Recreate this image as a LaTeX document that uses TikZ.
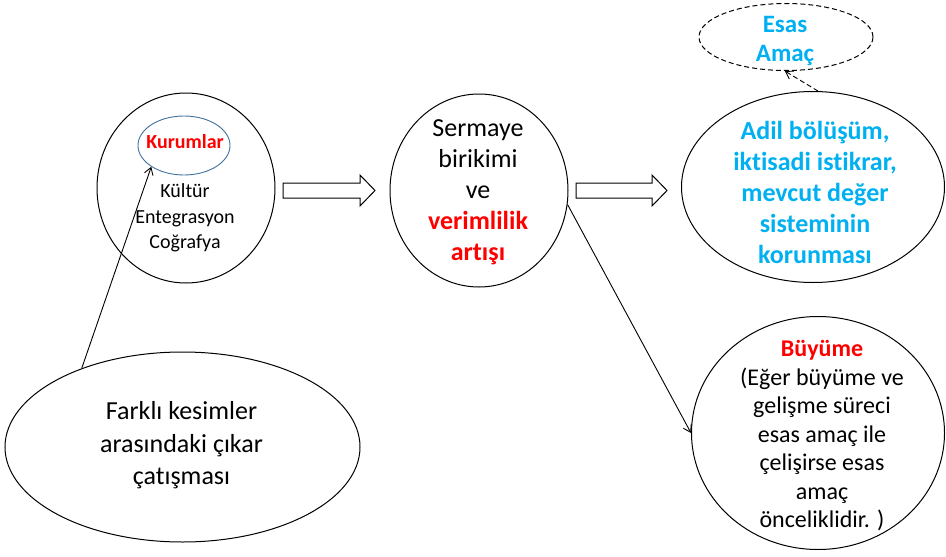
\documentclass[tikz,border=0pt]{standalone}
\usepackage{fontspec}
\setmainfont{Carlito}[Ligatures=NoCommon]
\usetikzlibrary{shapes.geometric,arrows.meta}
\definecolor{esasblue}{RGB}{0,176,240}
\definecolor{kurumred}{RGB}{255,0,0}
\definecolor{ringblue}{RGB}{65,113,156}

\tikzset{
  ring/.style={draw,ellipse,inner sep=0pt,line width=1pt},
  txt/.style={align=center,inner sep=0pt},
  link/.style={->,line width=0.9pt},
}

\begin{document}
\begin{tikzpicture}[x=1pt,y=-1pt,>={Straight Barb[length=7pt,width=9pt]}]
\useasboundingbox (0,0) rectangle (946,557);
% outlines
\node [ring, minimum width=178, minimum height=190] (kultur) at (186,188) {};
\node [ring, draw=ringblue, line width=0.9pt, minimum width=92, minimum height=59] (kurumlar) at (184,145.5) {};
\node [ring, minimum width=178, minimum height=193] (sermaye) at (479,190.5) {};
\node [ring, minimum width=263, minimum height=191] (adil) at (813,187) {};
\node [ring, dash pattern=on 5pt off 3pt, minimum width=174, minimum height=67] (esas) at (786,37) {};
\node [ring, minimum width=253, minimum height=233] (buyume) at (818,433) {};
\node [ring, minimum width=355, minimum height=190] (farkli) at (182.5,447) {};
% texts
\node [txt, text=kurumred, font=\fontsize{20}{25}\selectfont\bfseries] (kurumlartext) at (185,142) {Kurumlar};
\node [txt, font=\fontsize{20}{25.5}\selectfont] (kulturtext) at (185,218) {Kültür\\Entegrasyon\\Coğrafya};
\node [txt, font=\fontsize{26}{31}\selectfont] (sermayetext) at (478,192.5) {Sermaye\\birikimi\\ve\\\textcolor{kurumred}{\textbf{verimlilik}}\\\textcolor{kurumred}{\textbf{artışı}}};
\node [txt, text=esasblue, font=\fontsize{26}{31}\selectfont\bfseries] (adiltext) at (815,192.5) {Adil bölüşüm,\\iktisadi istikrar,\\mevcut değer\\sisteminin\\korunması};
\node [txt, text=esasblue, font=\fontsize{25}{29}\selectfont\bfseries] (esastext) at (785,40.5) {Esas\\Amaç};
\node [txt, font=\fontsize{24}{28.5}\selectfont] (buyumetext) at (822,436) {\textcolor{kurumred}{\textbf{Büyüme}}\\(Eğer büyüme ve\\gelişme süreci\\esas amaç ile\\çelişirse esas\\amaç\\önceliklidir. )};
\node [txt, font=\fontsize{26}{32.5}\selectfont] (farklitext) at (181.5,445.5) {Farklı kesimler\\arasındaki çıkar\\çatışması};
% block arrows
\draw [line width=1pt] (283,183) -- (360,183) -- (360,175) -- (375,190.5) -- (360,206) -- (360,198) -- (283,198) -- cycle;
\draw [line width=1pt] (576,183) -- (652,183) -- (652,175) -- (667,190.5) -- (652,206) -- (652,198) -- (576,198) -- cycle;
% connectors
\draw [link] (farkli.142.5) -- (kurumlar.213);
\draw [link] (sermaye.-9) -- (buyume.180);
\draw [link, dash pattern=on 5pt off 3pt] (adil.87.6) -- (esas.268);
\end{tikzpicture}
\end{document}
